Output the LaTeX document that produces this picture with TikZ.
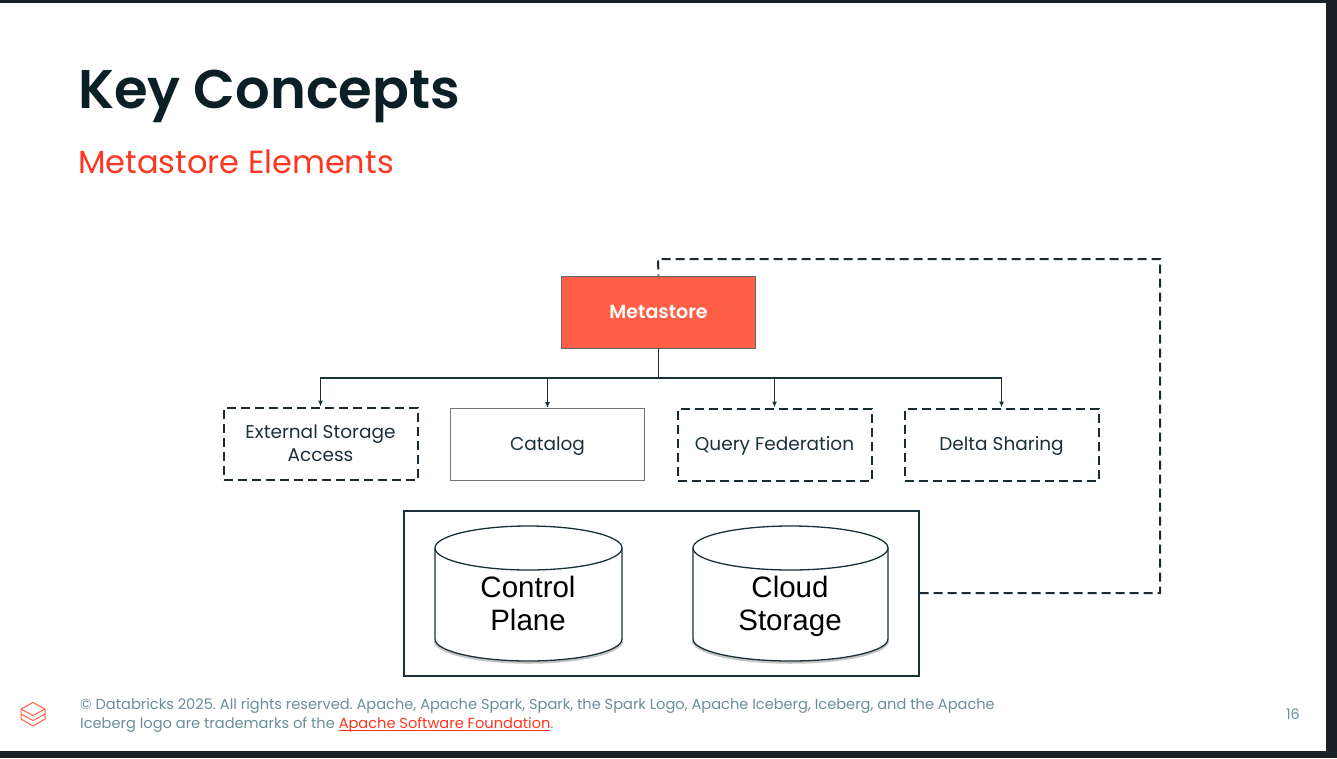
\documentclass[tikz,border=0pt]{standalone}
\usepackage{fontspec}
\setmainfont{Poppins}[BoldFont={Poppins SemiBold}]
\newfontfamily\heros{Liberation Sans}
\usepackage{tikz}
\usetikzlibrary{arrows.meta}

\definecolor{FrameDark}{HTML}{1B1F27}
\definecolor{TitleInk}{HTML}{0B2026}
\definecolor{BodyInk}{HTML}{1B3139}
\definecolor{DashInk}{HTML}{1B2A30}
\definecolor{LavaRed}{HTML}{FF3621}
\definecolor{LavaFill}{HTML}{FF5F46}
\definecolor{FootGray}{HTML}{6A8F9B}

\newcommand{\linkline}[1]{\leavevmode\setbox0\hbox{#1}\rlap{\raisebox{-2.4pt}{\rule{\wd0}{0.9pt}}}\box0}

\tikzset{
  elem/.style={minimum width=194, minimum height=72, inner sep=0, align=center, text=BodyInk, font=\fontsize{18.5}{23}\selectfont},
  single/.style={text height=16, text depth=4},
  elemdash/.style={elem, draw=DashInk, line width=2, dash pattern=on 9pt off 5pt},
  elemsolid/.style={elem, draw=black!55, line width=0.8},
  feed/.style={draw=BodyInk, line width=1.2, -{Latex[length=6pt, width=5pt]}},
  cyl/.style={draw=BodyInk, line width=1.3, fill=white},
  cylshade/.style={draw=black!45, line width=2.5, opacity=0.5},
  cyltext/.style={inner sep=0, align=center, text=black, font=\heros\fontsize{29.5}{33}\selectfont},
  logo/.style={draw=LavaFill, line width=1, line join=round},
}

\begin{document}
\frenchspacing
\begin{tikzpicture}[x=1pt, y=-1pt]
\useasboundingbox (0, 0) rectangle (1337, 758);

%% Slide frame
\fill [FrameDark] (0, 0) rectangle (1337, 758);
\fill [white] (0, 3) rectangle (1326, 751);

%% Define the nodes
\node [anchor=base west, inner sep=0, text=TitleInk, font=\fontsize{54.4}{60}\selectfont\bfseries] (title) at (78, 108) {Key Concepts};
\node [anchor=base west, inner sep=0, text=LavaRed, font=\fontsize{32}{38}\selectfont] (subtitle) at (78, 173) {Metastore Elements};

\node [elem, draw=black!60, line width=0.7, fill=LavaFill, text=white, font=\fontsize{19}{22}\selectfont\bfseries] (meta) at (658.5, 312) {Metastore};

\node [elemdash] (ext) at (320.5, 443.5) {External Storage\\Access};
\node [elemsolid, single] (cat) at (547.5, 444.5) {Catalog};
\node [elemdash, single] (fed) at (774.5, 444.5) {Query Federation};
\node [elemdash, single] (share) at (1001.5, 444.5) {Delta Sharing};

\node [draw=BodyInk, line width=2, minimum width=515, minimum height=165, inner sep=0] (store) at (661, 593.5) {};

\coordinate (bus) at (658.5, 378);
\coordinate (loopr) at (1160, 593);
\coordinate (loopt) at (1160, 259);
\coordinate (loopl) at (658, 259);

%% Draw the cylinders
\draw [cylshade] (622, 640.5) arc [start angle=0, end angle=180, x radius=93.5, y radius=22];
\draw [cyl] (435, 548) arc [start angle=-180, end angle=0, x radius=93.5, y radius=22] -- (622, 639) arc [start angle=0, end angle=180, x radius=93.5, y radius=22] -- cycle;
\draw [cyl] (435, 548) arc [start angle=180, end angle=0, x radius=93.5, y radius=22];
\node [cyltext] (ctrl) at (528, 603) {Control\\Plane};

\draw [cylshade] (888, 640.5) arc [start angle=0, end angle=180, x radius=97.5, y radius=22];
\draw [cyl] (693, 548) arc [start angle=-180, end angle=0, x radius=97.5, y radius=22] -- (888, 639) arc [start angle=0, end angle=180, x radius=97.5, y radius=22] -- cycle;
\draw [cyl] (693, 548) arc [start angle=180, end angle=0, x radius=97.5, y radius=22];
\node [cyltext] (cloud) at (790, 606) {Cloud\\Storage};

%% Draw the connectors
\draw [draw=BodyInk, line width=1.2] (meta) -- (bus);
\draw [feed] (bus) -| (ext);
\draw [feed] (bus) -| (cat);
\draw [feed] (bus) -| (fed);
\draw [feed] (bus) -| (share);

\draw [DashInk, line width=2, dash pattern=on 9pt off 5pt] (store.east |- loopr) -- (loopr) -- (loopt) -- (loopl) -- (meta.north);

%% Footer
\draw [logo] (21, 709) -- (33, 702.5) -- (45, 709) -- (33, 715.5) -- cycle;
\draw [logo] (21, 709) -- (21, 714) -- (33, 720.5) -- (45, 714) -- (45, 709);
\draw [logo] (21, 714) -- (21, 719) -- (33, 726) -- (45, 719) -- (45, 714);

\node [anchor=base west, inner sep=0, align=left, text=FootGray, font=\fontsize{14.6}{19}\selectfont] (legal) at (80, 728) {\textcopyright{} Databricks 2025. All rights reserved. Apache, Apache Spark, Spark, the Spark Logo, Apache Iceberg, Iceberg, and the Apache\\Iceberg logo are trademarks of the {\color{LavaRed}\linkline{Apache Software Foundation}}.};
\node [anchor=base, inner sep=0, text=FootGray, font=\fontsize{14.5}{18}\selectfont] (page) at (1293, 719) {16};

\end{tikzpicture}
\end{document}
